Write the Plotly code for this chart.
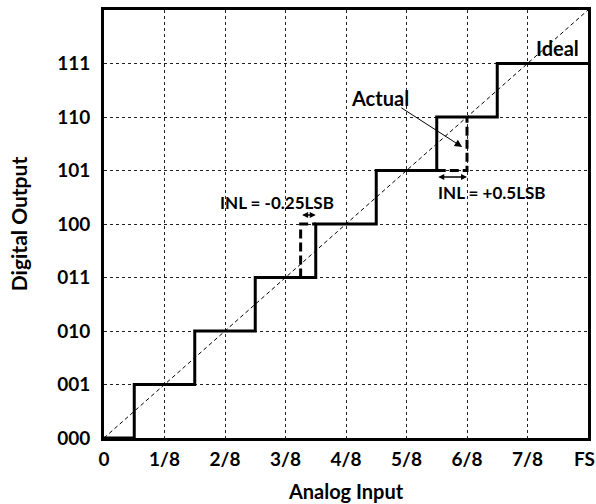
import plotly.graph_objects as go

# Data (x in units of FS/8, y in output codes)
code_labels = ["000", "001", "010", "011", "100", "101", "110", "111"]
code_vals = [0, 1, 2, 3, 4, 5, 6, 7]
x_tick_labels = ["0", "1/8", "2/8", "3/8", "4/8", "5/8", "6/8", "7/8", "FS"]
x_tick_vals = [0, 1, 2, 3, 4, 5, 6, 7, 8]

# Actual (solid) staircase: transition points (hv shape)
stair_x = [0, 0.5, 1.5, 2.5, 3.5, 4.5, 5.5, 6.5, 8]
stair_y = [0, 1, 2, 3, 4, 5, 6, 7, 7]

# Dashed transitions
dashA_x = [3.25, 3.25, 3.5]
dashA_y = [3, 4, 4]
dashB_x = [5.5, 6.0, 6.0]
dashB_y = [5, 5, 6]

# Ideal line
ideal_x = [0, 8]
ideal_y = [0, 8]

FONT = "Lato"
tickfont = dict(family=FONT, size=19, color="black", weight="bold")

fig = go.Figure()
fig.add_trace(go.Scatter(x=ideal_x, y=ideal_y, mode="lines",
                         line=dict(color="black", width=1, dash="4px,3px"),
                         hoverinfo="skip", showlegend=False))
fig.add_trace(go.Scatter(x=stair_x, y=stair_y, mode="lines",
                         line=dict(color="black", width=3, shape="hv"),
                         showlegend=False))
fig.add_trace(go.Scatter(x=dashA_x, y=dashA_y, mode="lines",
                         line=dict(color="black", width=3, dash="9px,4px"),
                         showlegend=False))
fig.add_trace(go.Scatter(x=dashB_x, y=dashB_y, mode="lines",
                         line=dict(color="black", width=3, dash="9px,4px"),
                         showlegend=False))

# Double arrows for INL
fig.add_annotation(x=3.5, y=4.17, ax=3.25, ay=4.17, xref="x", yref="y",
                   axref="x", ayref="y", text="", showarrow=True,
                   arrowhead=2, startarrowhead=2, arrowside="end+start",
                   arrowwidth=1.5, arrowsize=0.8, startarrowsize=0.8, arrowcolor="black")
fig.add_annotation(x=6.0, y=4.88, ax=5.5, ay=4.88, xref="x", yref="y",
                   axref="x", ayref="y", text="", showarrow=True,
                   arrowhead=2, startarrowhead=2, arrowside="end+start",
                   arrowwidth=1.5, arrowsize=0.8, startarrowsize=0.8, arrowcolor="black")
# Actual arrow
fig.add_annotation(x=5.92, y=5.44, ax=4.89, ay=6.19, xref="x", yref="y",
                   axref="x", ayref="y", text="", showarrow=True,
                   arrowhead=2, arrowwidth=1, arrowsize=1.5, arrowcolor="black")

txt = dict(family=FONT, size=17, color="black", weight="bold")
fig.add_annotation(x=2.86, y=4.41, text="INL = -0.25LSB", showarrow=False, font=txt)
fig.add_annotation(x=6.41, y=4.58, text="INL = +0.5LSB", showarrow=False, font=txt)
fig.add_annotation(x=4.56, y=6.36, text="Actual", showarrow=False,
                   font=dict(family=FONT, size=20, color="black", weight="bold"))
fig.add_annotation(x=7.5, y=7.29, text="Ideal", showarrow=False,
                   font=dict(family=FONT, size=20, color="black", weight="bold"))

# Last x tick label (FS) drawn as annotation so it sits just inside the edge
fig.add_annotation(x=x_tick_vals[-1], y=0, xref="x", yref="paper",
                   text=x_tick_labels[-1], showarrow=False,
                   xanchor="center", yanchor="top", xshift=-4, yshift=-7,
                   font=tickfont)

axis_common = dict(showgrid=True, gridcolor="#222", gridwidth=1, griddash="dot",
                   zeroline=False, showline=True, linecolor="black", linewidth=3,
                   mirror=True, ticks="", range=[0, 8], tickfont=tickfont,
                   automargin=False)

fig.update_xaxes(tickvals=x_tick_vals[:-1], ticktext=x_tick_labels[:-1],
                 ticklabelstandoff=2,
                 title=dict(text="Analog Input", standoff=17,
                            font=dict(family=FONT, size=20, color="black", weight="bold")),
                 **axis_common)
fig.update_yaxes(tickvals=code_vals, ticktext=code_labels,
                 ticklabelstandoff=7,
                 title=dict(text="Digital Output", standoff=24,
                            font=dict(family=FONT, size=21, color="black", weight="bold")),
                 **axis_common)

fig.update_layout(width=596, height=504,
                  margin=dict(l=104, r=8, t=10, b=66),
                  paper_bgcolor="white", plot_bgcolor="white",
                  showlegend=False)

# Remove the default page body margin so the figure fills the window exactly
fig.write_html("out.html", config={"displayModeBar": False},
               post_script="document.body.style.margin='0';")
